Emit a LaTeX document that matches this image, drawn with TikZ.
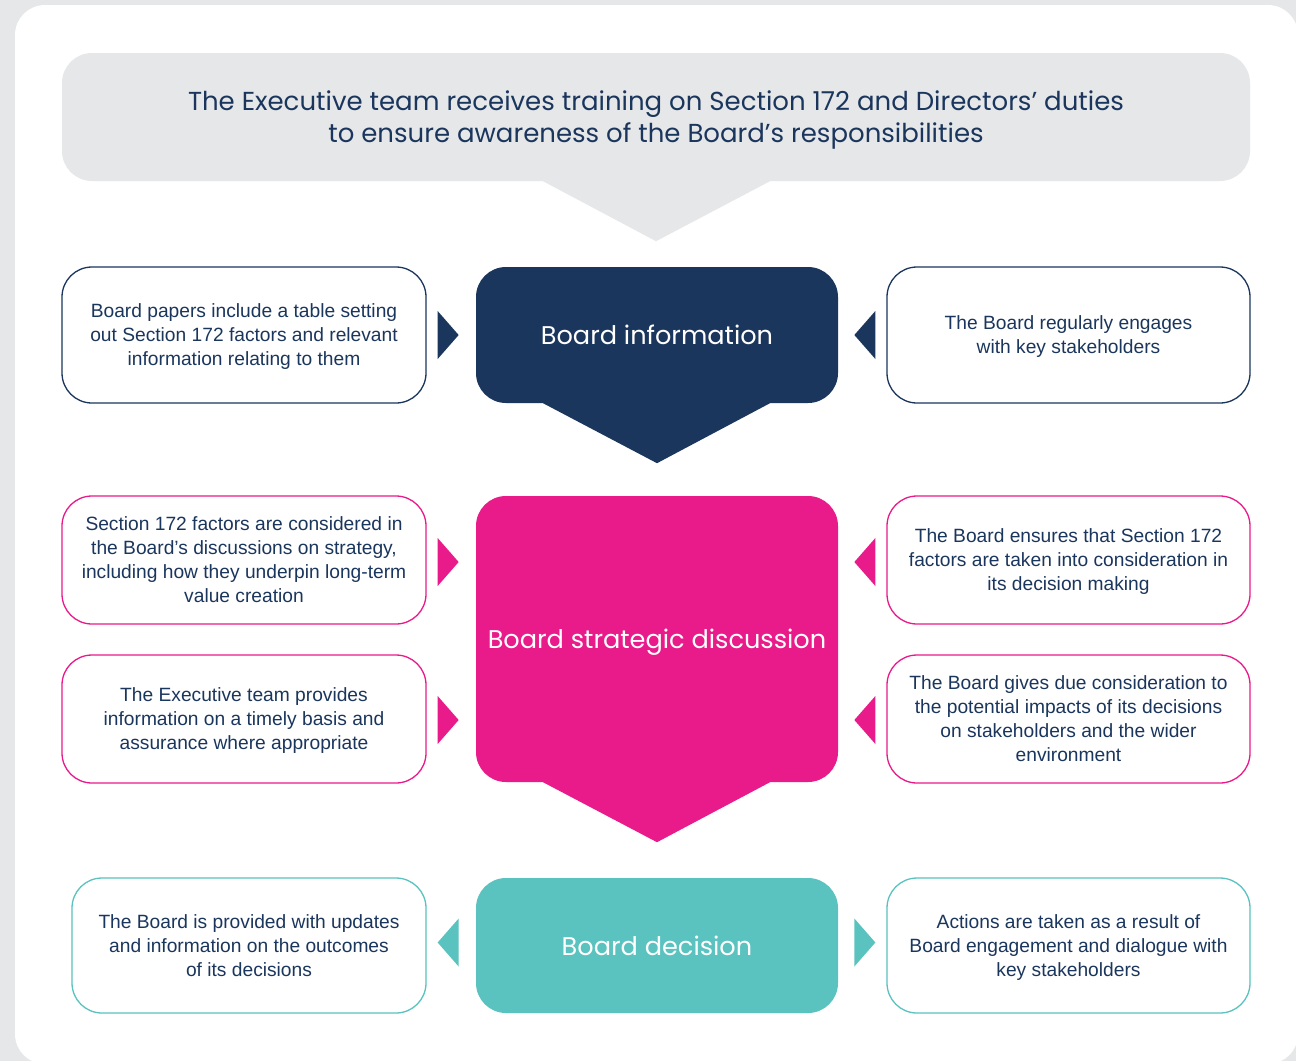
\documentclass[tikz,border=0pt]{standalone}
\usepackage{fontspec}
\setmainfont{Liberation Sans}
\newfontfamily\headfont{Poppins}
\usetikzlibrary{positioning}
\usetikzlibrary{calc}

\definecolor{navy}{HTML}{1B365D}
\definecolor{magenta}{HTML}{E91A8A}
\definecolor{teal}{HTML}{5AC3C0}
\definecolor{panelgrey}{HTML}{E6E7E8}

\tikzset{
  centrebox/.style={rounded corners=30pt, minimum width=362pt, minimum height=136pt,
    text=white, font=\headfont\fontsize{25.6}{30}\selectfont},
  sidebox/.style={draw, line width=1.3pt, rounded corners=30pt, fill=white, text=navy,
    align=center, text depth=-1pt, minimum width=364pt, minimum height=128pt,
    font=\fontsize{19.2}{24}\selectfont},
}

% small pointers beside the centre boxes
\newcommand{\tipright}[2]{\fill[#1] (#2) -- ++(21,24) -- ++(-21,24) -- cycle;}
\newcommand{\tipleft}[2]{\fill[#1] (#2) -- ++(-21,24) -- ++(21,24) -- cycle;}

\begin{document}
\begin{tikzpicture}[x=1pt, y=-1pt]
        \useasboundingbox (0,0) rectangle (1296,1061);
        % Fondo y panel blanco
        \fill[panelgrey] (0,0) rectangle (1296,1061);
        \fill[white, rounded corners=30pt] (15,5) rectangle (1298,1064);

        % Cabecera
        \node[fill=panelgrey, rounded corners=30pt, minimum width=1188pt, minimum height=128pt,
              text=navy, align=center, text depth=-1pt, font=\headfont\fontsize{26}{32}\selectfont]
              (training) at (656,117)
              {The Executive team receives training on Section 172 and Directors’ duties\\
               to ensure awareness of the Board’s responsibilities};
        \fill[panelgrey] ([xshift=-113pt]training.south) -- ([xshift=114pt]training.south)
              -- ([yshift=-60pt]training.south) -- cycle;

        % Cajas centrales
        \node[centrebox, fill=navy] (info) at (657,335) {Board information};
        \node[centrebox, fill=magenta, minimum height=286pt, text depth=-2pt] (strategy) at (657,639)
              {Board strategic discussion};
        \node[centrebox, fill=teal, minimum height=135pt] (decision) at (657,945.5) {Board decision};

        % Flechas hacia abajo
        \fill[navy] ([xshift=-114pt]info.south) -- ([xshift=113pt]info.south)
              -- ([yshift=-60pt]info.south) -- cycle;
        \fill[magenta] ([xshift=-114pt]strategy.south) -- ([xshift=113pt]strategy.south)
              -- ([yshift=-60pt]strategy.south) -- cycle;

        % Fila 1
        \node[sidebox, draw=navy, minimum height=136pt] (papers) at (244,335)
              {Board papers include a table setting\\ out Section 172 factors and relevant\\ information relating to them};
        \node[sidebox, draw=navy, minimum width=363pt, minimum height=136pt] (engages) at (1068.5,335)
              {The Board regularly engages\\ with key stakeholders};
        \tipright{navy}{$(papers.east)+(11,-24)$}
        \tipleft{navy}{$(engages.west)+(-11,-24)$}

        % Fila 2
        \node[sidebox, draw=magenta] (factors) at (244,560)
              {Section 172 factors are considered in\\ the Board’s discussions on strategy,\\ including how they underpin long-term\\ value creation};
        \node[sidebox, draw=magenta] (timely) at (244,719)
              {The Executive team provides\\ information on a timely basis and\\ assurance where appropriate};
        \node[sidebox, draw=magenta, minimum width=363pt] (ensures) at (1068.5,560)
              {The Board ensures that Section 172\\ factors are taken into consideration in\\ its decision making};
        \node[sidebox, draw=magenta, minimum width=363pt] (impacts) at (1068.5,719)
              {The Board gives due consideration to\\ the potential impacts of its decisions\\ on stakeholders and the wider\\ environment};
        \tipright{magenta}{$(factors.east)+(11,-22)$}
        \tipright{magenta}{$(timely.east)+(11,-23)$}
        \tipleft{magenta}{$(ensures.west)+(-11,-22)$}
        \tipleft{magenta}{$(impacts.west)+(-11,-23)$}

        % Fila 3
        \node[sidebox, draw=teal, minimum width=354pt, minimum height=135pt] (updates) at (249,945.5)
              {The Board is provided with updates\\ and information on the outcomes\\ of its decisions};
        \node[sidebox, draw=teal, minimum width=363pt, minimum height=135pt] (actions) at (1068.5,945.5)
              {Actions are taken as a result of\\ Board engagement and dialogue with\\ key stakeholders};
        \tipleft{teal}{$(updates.east)+(32,-27)$}
        \tipright{teal}{$(actions.west)+(-32,-27)$}
    \end{tikzpicture}
\end{document}
